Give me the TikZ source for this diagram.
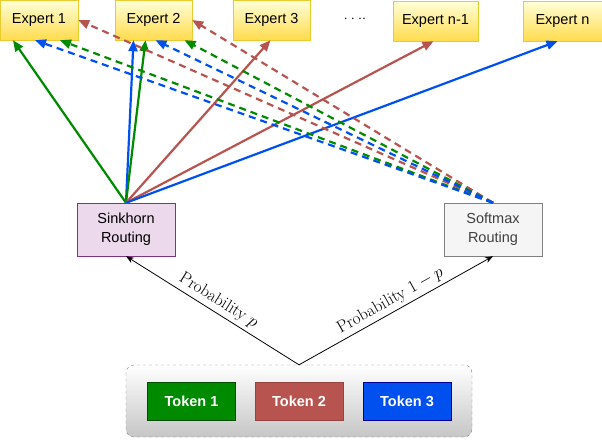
\documentclass[tikz,border=0pt]{standalone}
\usepackage{fontspec}
\newfontfamily\boxfont{Liberation Sans}
\usetikzlibrary{arrows.meta,shadings}
\definecolor{tokgreen}{HTML}{008A00}
\definecolor{tokred}{HTML}{B85450}
\definecolor{tokblue}{HTML}{0050EF}
\tikzset{
  expert/.style={draw=yellow!60!brown, top color=yellow!15, bottom color=yellow!60!orange!70,
    minimum height=40pt, inner sep=0pt, font=\boxfont\fontsize{14.5}{16}\selectfont},
  router/.style={draw, minimum width=98pt, minimum height=53pt, align=center, inner sep=0pt,
    font=\boxfont\fontsize{14.5}{19}\selectfont},
  token/.style={draw, text=white, minimum width=88pt, minimum height=38pt, inner sep=0pt,
    font=\boxfont\bfseries\fontsize{14.5}{16}\selectfont},
  route/.style={line width=2.2pt, -{Triangle[length=11pt,width=9pt]}},
  alt/.style={route, dash pattern=on 7pt off 5pt},
  prob/.style={-{Stealth[length=8pt]}, line width=0.8pt},
}
\begin{document}
\begin{tikzpicture}[x=1pt,y=-1pt]
			\useasboundingbox (0,0) rectangle (602,440);

			% Experts
			\node[expert, minimum width=78pt] (e1) at (39,20) {Expert 1};
			\node[expert, minimum width=77pt] (e2) at (153.5,20) {Expert 2};
			\node[expert, minimum width=77pt] (e3) at (271.5,20) {Expert 3};
			\node[font=\boxfont\fontsize{15}{15}\selectfont] (dots) at (355,19) {$\cdot\cdot\cdot\cdot$};
			\node[expert, minimum width=85pt] (en1) at (435.5,21) {Expert n-1};
			\node[expert, minimum width=79pt] (en) at (562.5,21) {Expert n};

			% Routers
			\node[router, draw=violet!60!gray, fill=violet!15] (sink) at (126,229.5) {Sinkhorn\\Routing};
			\node[router, draw=gray, fill=gray!8, text=black!75] (soft) at (493,229.5) {Softmax\\Routing};

			% Tokens
			\node[draw=gray, dashed, rounded corners=8pt, top color=white, bottom color=gray!45,
			  minimum width=346pt, minimum height=72pt] (pool) at (299,401) {};
			\node[token, fill=tokgreen, draw=green!30!black] (t1) at (191.5,401) {Token 1};
			\node[token, fill=tokred, draw=tokred!80!black] (t2) at (299,401) {Token 2};
			\node[token, fill=tokblue, draw=blue!60!black] (t3) at (407,401) {Token 3};

			% Probabilities
			\draw[prob] (pool.north) -- (sink.south)
			  node[midway, sloped, above, font=\fontsize{17}{19}\selectfont] {Probability $p$};
			\draw[prob] (pool.north) -- (soft.south)
			  node[midway, sloped, above, font=\fontsize{17}{19}\selectfont] {Probability $1-p$};

			% Sinkhorn routes
			\draw[route, tokgreen] (sink.north) -- ([xshift=-26pt]e1.south);
			\draw[route, tokblue] (sink.north) -- ([xshift=-20pt]e2.south);
			\draw[route, tokgreen] (sink.north) -- ([xshift=-8pt]e2.south);
			\draw[route, tokred] (sink.north) -- ([xshift=-1pt]e3.south);
			\draw[route, tokred] (sink.north) -- ([xshift=-2pt]en1.south);
			\draw[route, tokblue] (sink.north) -- ([xshift=-5pt]en.south);

			% Softmax routes
			\draw[alt, tokred] (soft.north) -- (e1.east);
			\draw[alt, tokred] (soft.north) -- (e2.east);
			\draw[alt, tokgreen] (soft.north) -- ([xshift=21pt]e1.south);
			\draw[alt, tokgreen] (soft.north) -- ([xshift=31pt]e2.south);
			\draw[alt, tokblue] (soft.north) -- ([xshift=-4pt]e1.south);
			\draw[alt, tokblue] (soft.north) -- ([xshift=2pt]e2.south);

		\end{tikzpicture}
\end{document}
